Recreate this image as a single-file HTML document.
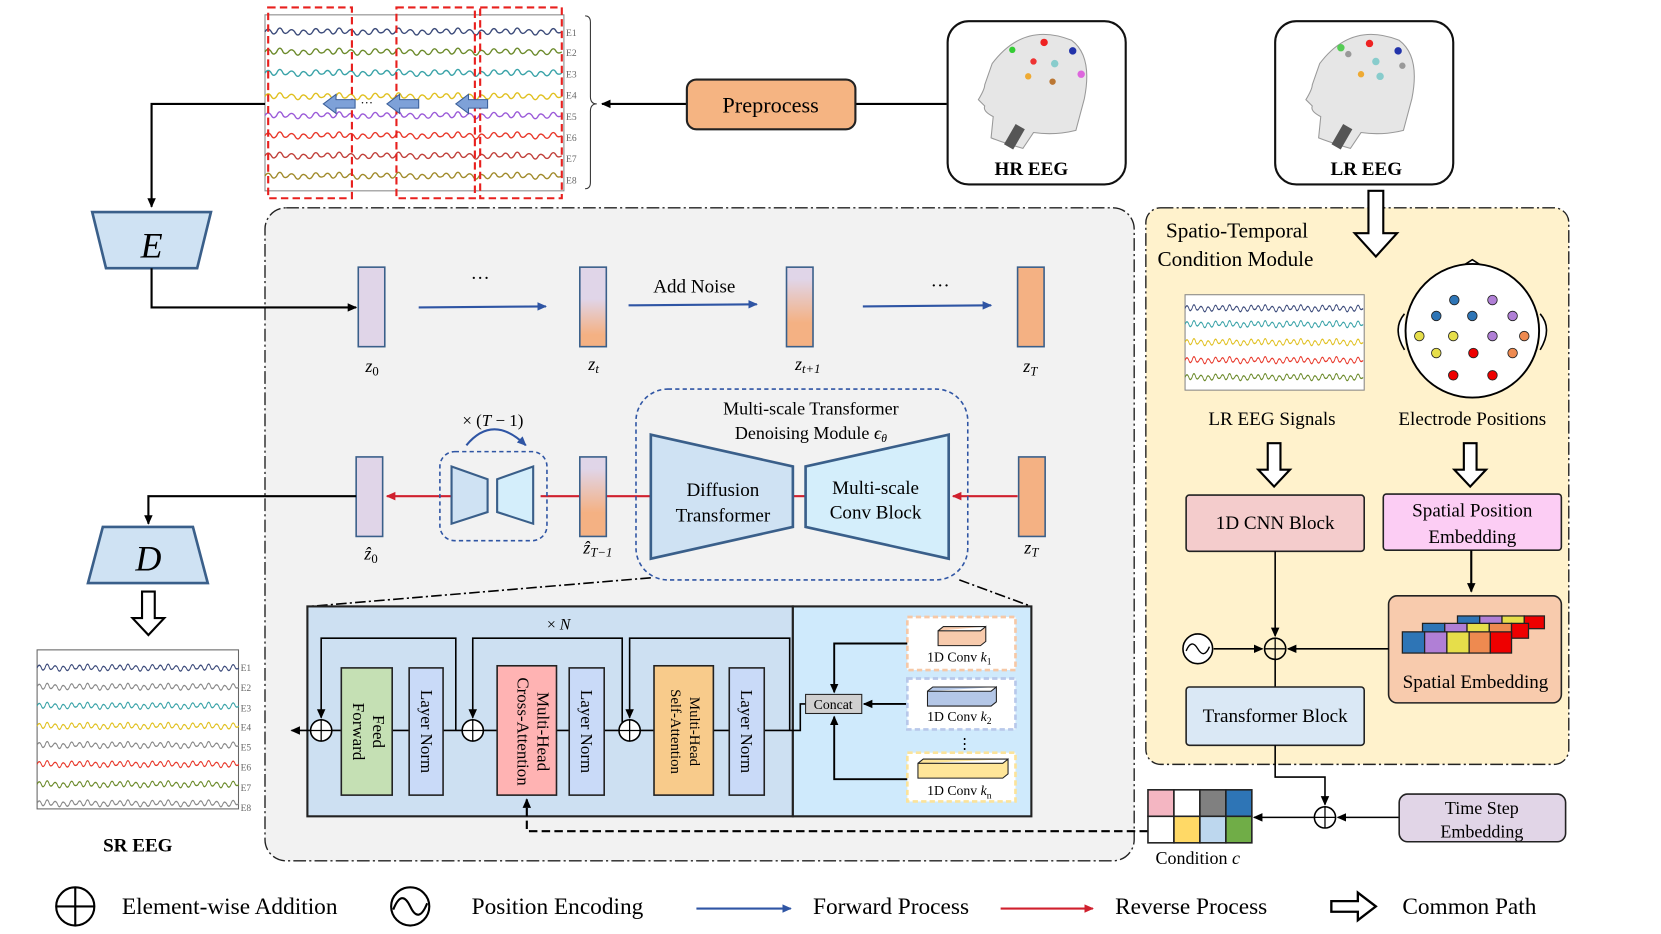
<!DOCTYPE html>
<html><head><meta charset="utf-8"><style>
html,body{margin:0;padding:0;background:#fff;}
svg{display:block;}
text{font-family:"Liberation Serif",serif;}
</style></head><body>
<svg width="1661" height="934" viewBox="0 0 1567 881" preserveAspectRatio="none" xmlns="http://www.w3.org/2000/svg">
<defs>
<path id="wv" fill="none" stroke-width="1.3" d="M0 0 q3 -5 6 0 q2 4 5 0 q3 -7 6 0 q2 3 5 0 q3 -4 6 0 q3 6 6 0 q2 -3 5 0 q3 5 6 0 q3 -6 6 0 q2 2 5 0 q3 -5 6 0 q2 4 5 0 q3 -7 6 0 q2 3 5 0 q3 -4 6 0 q3 6 6 0 q2 -3 5 0 q3 5 6 0 q3 -6 6 0 q2 2 5 0 q3 -5 6 0 q2 4 5 0 q3 -7 6 0 q2 3 5 0 q3 -4 6 0 q3 6 6 0 q2 -3 5 0 q3 5 6 0 q3 -6 6 0 q2 2 5 0 q3 -5 6 0 q2 4 5 0 q3 -7 6 0 q2 3 5 0 q3 -4 6 0 q3 6 6 0 q2 -3 5 0 q3 5 6 0 q3 -6 6 0 q2 2 5 0 q3 -5 6 0 q2 4 5 0 q3 -7 6 0 q2 3 5 0 q3 -4 6 0 q3 6 6 0 q2 -3 5 0 q3 5 6 0 q3 -6 6 0 q2 2 5 0"/>
<marker id="ak" markerWidth="10" markerHeight="10" refX="8" refY="5" orient="auto" markerUnits="userSpaceOnUse"><path d="M0 1 L9 5 L0 9 z" fill="#000"/></marker>
<marker id="ab" markerWidth="10" markerHeight="10" refX="8" refY="5" orient="auto" markerUnits="userSpaceOnUse"><path d="M0 1 L9 5 L0 9 z" fill="#2f55a4"/></marker>
<marker id="ar" markerWidth="10" markerHeight="10" refX="8" refY="5" orient="auto" markerUnits="userSpaceOnUse"><path d="M0 1 L9 5 L0 9 z" fill="#d0202e"/></marker>
<linearGradient id="g1" x1="0" y1="0" x2="0" y2="1"><stop offset="0.4" stop-color="#e0d5e8"/><stop offset="0.85" stop-color="#f4b183"/></linearGradient>
<linearGradient id="g2" x1="0" y1="0" x2="0" y2="1"><stop offset="0.15" stop-color="#e0d5e8"/><stop offset="0.7" stop-color="#f4b183"/></linearGradient>
</defs>

<!-- top signal box -->
<rect x="250" y="14" width="282" height="166" fill="#fff" stroke="#888"/>
<g transform="translate(250,0)">
<use href="#wv" y="30" stroke="#3b4a7a"/><use href="#wv" y="49" stroke="#6b8a2a"/><use href="#wv" y="69" stroke="#3aa3a8"/><use href="#wv" y="91" stroke="#e0c020"/>
<use href="#wv" y="109" stroke="#9a5ad8"/><use href="#wv" y="128" stroke="#e8382a"/><use href="#wv" y="147" stroke="#c0403a"/><use href="#wv" y="166" stroke="#a08a2a"/>
</g>
<g fill="none" stroke="#e8201e" stroke-width="2" stroke-dasharray="7 4">
<rect x="253" y="7" width="79" height="180"/><rect x="374" y="7" width="74" height="180"/><rect x="453" y="7" width="77" height="180"/></g>
<g font-size="9" fill="#666" font-family="Liberation Sans,sans-serif"><text x="534" y="34">E1</text><text x="534" y="53">E2</text><text x="534" y="73">E3</text><text x="534" y="93">E4</text><text x="534" y="113">E5</text><text x="534" y="133">E6</text><text x="534" y="153">E7</text><text x="534" y="173">E8</text></g>
<path d="M552 15 q5 0 5 6 v70 q0 7 6 7 q-6 0 -6 7 v67 q0 6 -5 6" fill="none" stroke="#333"/>
<g fill="#7ea1d8" stroke="#3b5f9a"><path d="M305 98 l12 -9 v5 h18 v8 h-18 v5z"/><path d="M365 98 l12 -9 v5 h18 v8 h-18 v5z"/><path d="M430 98 l12 -9 v5 h18 v8 h-18 v5z"/></g>
<text x="340" y="101" font-size="12">···</text>

<!-- preprocess -->
<line x1="893" y1="98" x2="568" y2="98" stroke="#000" stroke-width="2" marker-end="url(#ak)"/>
<rect x="648" y="75" width="159" height="47" rx="9" fill="#f5b482" stroke="#222" stroke-width="2"/>
<text x="727" y="106" font-size="21" text-anchor="middle">Preprocess</text>

<!-- HR / LR EEG boxes -->
<g>
<rect x="894" y="20" width="168" height="154" rx="20" fill="#fff" stroke="#111" stroke-width="2"/>
<path d="M936 60 q30 -40 75 -22 q20 15 12 55 l-8 30 q-20 5 -40 2 l-10 15 q-20 -6 -30 -10 l2 -20 q-10 -5 -8 -10 l-6 -6 q6 -10 6 -14z" fill="#e6e6e6" stroke="#999"/>
<circle cx="955" cy="47" r="3" fill="#3c3"/><circle cx="985" cy="40" r="3.5" fill="#e22"/><circle cx="1012" cy="48" r="3.5" fill="#23a"/><circle cx="975" cy="58" r="3" fill="#e33"/><circle cx="995" cy="60" r="3.5" fill="#8cc"/><circle cx="970" cy="72" r="3" fill="#ea3"/><circle cx="993" cy="77" r="3" fill="#b73"/><circle cx="1020" cy="70" r="3.5" fill="#d6d"/>
<rect x="952" y="118" width="10" height="22" fill="#555" transform="rotate(30 957 129)"/>
<text x="973" y="165" font-size="18" font-weight="bold" text-anchor="middle">HR EEG</text>
</g>
<g>
<rect x="1203" y="20" width="168" height="154" rx="20" fill="#fff" stroke="#111" stroke-width="2"/>
<path d="M1245 60 q30 -40 75 -22 q20 15 12 55 l-8 30 q-20 5 -40 2 l-10 15 q-20 -6 -30 -10 l2 -20 q-10 -5 -8 -10 l-6 -6 q6 -10 6 -14z" fill="#e6e6e6" stroke="#999"/>
<circle cx="1265" cy="45" r="3.5" fill="#5c5"/><circle cx="1292" cy="41" r="3.5" fill="#e22"/><circle cx="1319" cy="48" r="3.5" fill="#23a"/><circle cx="1298" cy="58" r="3.5" fill="#8cc"/><circle cx="1272" cy="51" r="3" fill="#999"/><circle cx="1284" cy="70" r="3" fill="#ea3"/><circle cx="1302" cy="72" r="3.5" fill="#8cc"/><circle cx="1323" cy="62" r="3" fill="#999"/>
<rect x="1261" y="118" width="10" height="22" fill="#555" transform="rotate(30 1266 129)"/>
<text x="1289" y="165" font-size="18" font-weight="bold" text-anchor="middle">LR EEG</text>
</g>

<!-- E encoder -->
<polyline points="250,98 143,98 143,195" fill="none" stroke="#000" stroke-width="2" marker-end="url(#ak)"/>
<path d="M87 200 H199 L186 253 H100 Z" fill="#cfe2f3" stroke="#3a5f8a" stroke-width="2.5"/>
<text x="143" y="243" font-size="34" font-style="italic" text-anchor="middle">E</text>

<!-- gray area -->
<rect x="250" y="196" width="820" height="616" rx="20" fill="#f2f2f2" stroke="#222" stroke-width="1.3" stroke-dasharray="12 3 2 3"/>
<polyline points="143,253 143,290 336,290" fill="none" stroke="#000" stroke-width="2" marker-end="url(#ak)"/>

<!-- forward row -->
<rect x="338" y="252" width="25" height="75" fill="#e0d5e8" stroke="#3a5f8a" stroke-width="1.5"/>
<rect x="547" y="252" width="25" height="75" fill="url(#g1)" stroke="#3a5f8a" stroke-width="1.5"/>
<rect x="742" y="252" width="25" height="75" fill="url(#g2)" stroke="#3a5f8a" stroke-width="1.5"/>
<rect x="960" y="252" width="25" height="75" fill="#f4b183" stroke="#3a5f8a" stroke-width="1.5"/>
<g stroke="#2f55a4" stroke-width="2"><line x1="395" y1="290" x2="515" y2="289" marker-end="url(#ab)"/><line x1="593" y1="288" x2="714" y2="287" marker-end="url(#ab)"/><line x1="814" y1="289" x2="935" y2="288" marker-end="url(#ab)"/></g>
<text x="453" y="268" font-size="18" text-anchor="middle">···</text><text x="887" y="275" font-size="18" text-anchor="middle">···</text>
<text x="655" y="276" font-size="18" text-anchor="middle">Add Noise</text>
<g font-size="17" font-style="italic" text-anchor="middle"><text x="351" y="351">z<tspan font-size="12" dy="3" font-style="normal">0</tspan></text><text x="560" y="349">z<tspan font-size="12" dy="3">t</tspan></text><text x="762" y="349">z<tspan font-size="12" dy="3">t+1</tspan></text><text x="972" y="351">z<tspan font-size="12" dy="3">T</tspan></text></g>

<!-- reverse row -->
<g stroke="#d0202e" stroke-width="2"><line x1="960" y1="468" x2="899" y2="468" marker-end="url(#ar)"/><line x1="748" y1="468" x2="761" y2="468"/><line x1="614" y1="468" x2="572" y2="468"/><line x1="547" y1="468" x2="510" y2="468"/><line x1="425" y1="468" x2="365" y2="468" marker-end="url(#ar)"/></g>
<rect x="336" y="431" width="25" height="75" fill="#e0d5e8" stroke="#3a5f8a" stroke-width="1.5"/>
<rect x="547" y="431" width="25" height="75" fill="url(#g2)" stroke="#3a5f8a" stroke-width="1.5"/>
<rect x="961" y="431" width="25" height="75" fill="#f4b183" stroke="#3a5f8a" stroke-width="1.5"/>
<rect x="415" y="426" width="101" height="84" rx="14" fill="none" stroke="#2f55a4" stroke-width="1.5" stroke-dasharray="4 3"/>
<path d="M426 440 L460 452 V483 L426 494 Z" fill="#cfe2f3" stroke="#3a5f8a" stroke-width="2"/>
<path d="M503 440 L469 452 V483 L503 494 Z" fill="#d4eefb" stroke="#3a5f8a" stroke-width="2"/>
<path d="M440 420 q25 -30 56 0" fill="none" stroke="#2f55a4" stroke-width="2" marker-end="url(#ab)"/>
<text x="465" y="402" font-size="16" text-anchor="middle">× (<tspan font-style="italic">T</tspan> − 1)</text>
<rect x="600" y="367" width="313" height="180" rx="30" fill="none" stroke="#2f55a4" stroke-width="1.5" stroke-dasharray="4 3"/>
<text x="765" y="391" font-size="17" text-anchor="middle">Multi-scale Transformer</text>
<text x="765" y="414" font-size="17" text-anchor="middle">Denoising Module <tspan font-style="italic">ϵ</tspan><tspan font-size="11" dy="3" font-style="italic">θ</tspan></text>
<path d="M614 410 L748 440 V497 L614 527 Z" fill="#cfe2f3" stroke="#3a5f8a" stroke-width="2.5"/>
<path d="M895 410 L760 440 V497 L895 527 Z" fill="#d4eefb" stroke="#3a5f8a" stroke-width="2.5"/>
<text x="682" y="468" font-size="18" text-anchor="middle">Diffusion</text><text x="682" y="492" font-size="18" text-anchor="middle">Transformer</text>
<text x="826" y="466" font-size="18" text-anchor="middle">Multi-scale</text><text x="826" y="489" font-size="18" text-anchor="middle">Conv Block</text>
<g font-size="17" font-style="italic" text-anchor="middle"><text x="350" y="528">ẑ<tspan font-size="12" dy="3" font-style="normal">0</tspan></text><text x="564" y="522">ẑ<tspan font-size="12" dy="3">T−1</tspan></text><text x="973" y="522">z<tspan font-size="12" dy="3">T</tspan></text></g>

<!-- D decoder -->
<polyline points="336,468 140,468 140,494" fill="none" stroke="#000" stroke-width="2" marker-end="url(#ak)"/>
<path d="M97 497 H182 L196 550 H83 Z" fill="#cfe2f3" stroke="#3a5f8a" stroke-width="2.5"/>
<text x="140" y="538" font-size="34" font-style="italic" text-anchor="middle">D</text>
<path d="M134 558 h12 v25 h9 l-15 16 l-15 -16 h9z" fill="#fff" stroke="#000" stroke-width="2"/>
<rect x="35" y="613" width="190" height="150" fill="#fff" stroke="#666"/>
<g transform="translate(35,0) scale(0.68,1)">
<use href="#wv" y="630" stroke="#3b4a7a"/><use href="#wv" y="648" stroke="#888"/><use href="#wv" y="666" stroke="#3aa3a8"/><use href="#wv" y="685" stroke="#e0c020"/><use href="#wv" y="703" stroke="#888"/><use href="#wv" y="721" stroke="#e8382a"/><use href="#wv" y="740" stroke="#6b8a2a"/><use href="#wv" y="758" stroke="#888"/></g>
<g font-size="9" fill="#666" font-family="Liberation Sans,sans-serif"><text x="227" y="633">E1</text><text x="227" y="652">E2</text><text x="227" y="671">E3</text><text x="227" y="689">E4</text><text x="227" y="708">E5</text><text x="227" y="727">E6</text><text x="227" y="746">E7</text><text x="227" y="765">E8</text></g>
<text x="130" y="803" font-size="18" font-weight="bold" text-anchor="middle">SR EEG</text>

<!-- detail -->
<g stroke="#000" stroke-width="1.5" stroke-dasharray="10 3 2 3"><line x1="614" y1="545" x2="292" y2="572"/><line x1="905" y1="547" x2="973" y2="572"/></g>
<rect x="290" y="572" width="458" height="198" fill="#cde0f2" stroke="#222" stroke-width="2"/>
<rect x="748" y="572" width="225" height="198" fill="#cfeafc" stroke="#222" stroke-width="2"/>
<text x="527" y="594" font-size="15" text-anchor="middle">× <tspan font-style="italic">N</tspan></text>
<g fill="none" stroke="#000" stroke-width="1.5">
<line x1="748" y1="689" x2="275" y2="689" marker-end="url(#ak)"/>
<polyline points="430,689 430,602 303,602 303,677" marker-end="url(#ak)"/>
<polyline points="587,689 587,602 446,602 446,677" marker-end="url(#ak)"/>
<polyline points="745,689 745,602 594,602 594,677" marker-end="url(#ak)"/>
<polyline points="748,689 755,689 755,664 760,664"/>
</g>
<g fill="#fff" stroke="#000" stroke-width="1.5"><circle cx="303" cy="689" r="10"/><circle cx="446" cy="689" r="10"/><circle cx="594" cy="689" r="10"/></g>
<g stroke="#000" stroke-width="1.2"><path d="M293 689h20M303 679v20M436 689h20M446 679v20M584 689h20M594 679v20"/></g>
<rect x="322" y="630" width="48" height="120" fill="#c5e0b4" stroke="#222" stroke-width="1.5"/>
<rect x="386" y="630" width="32" height="120" fill="#c9daf8" stroke="#222" stroke-width="1.5"/>
<rect x="469" y="628" width="56" height="122" fill="#ffb3b3" stroke="#222" stroke-width="1.5"/>
<rect x="537" y="630" width="33" height="120" fill="#c9daf8" stroke="#222" stroke-width="1.5"/>
<rect x="617" y="628" width="56" height="122" fill="#f8cb8b" stroke="#222" stroke-width="1.5"/>
<rect x="688" y="630" width="33" height="120" fill="#c9daf8" stroke="#222" stroke-width="1.5"/>
<g font-size="16" text-anchor="middle">
<text transform="translate(352,690) rotate(90)">Feed</text><text transform="translate(333,690) rotate(90)">Forward</text>
<text transform="translate(397,690) rotate(90)">Layer Norm</text>
<text transform="translate(507,690) rotate(90)">Multi-Head</text><text transform="translate(488,690) rotate(90)">Cross-Attention</text>
<text transform="translate(548,690) rotate(90)">Layer Norm</text>
<text transform="translate(651,690) rotate(90)" font-size="14">Multi-Head</text><text transform="translate(633,690) rotate(90)" font-size="14">Self-Attention</text>
<text transform="translate(699,690) rotate(90)">Layer Norm</text>
</g>
<!-- convs -->
<g fill="none" stroke="#000" stroke-width="1.8">
<polyline points="856,607 787,607 787,653" marker-end="url(#ak)"/>
<line x1="856" y1="664" x2="815" y2="664" marker-end="url(#ak)"/>
<polyline points="856,735 787,735 787,676" marker-end="url(#ak)"/>
</g>
<rect x="760" y="655" width="53" height="18" fill="#d0d0d0" stroke="#222"/>
<text x="786" y="669" font-size="13" text-anchor="middle">Concat</text>
<rect x="856" y="582" width="102" height="50" fill="#fff" stroke="#f6c8a6" stroke-width="2.5" stroke-dasharray="5 3"/>
<rect x="856" y="640" width="102" height="48" fill="#fff" stroke="#b8c8ea" stroke-width="2.5" stroke-dasharray="5 3"/>
<rect x="856" y="710" width="102" height="46" fill="#fff" stroke="#fbe39a" stroke-width="2.5" stroke-dasharray="5 3"/>
<path d="M885 595 h40 l5 -4 v14 l-5 4 h-40z M885 595 l5 -4 h40" fill="#f8cbad" stroke="#222"/>
<path d="M875 652 h60 l5 -4 v14 l-5 4 h-60z M875 652 l5 -4 h60" fill="#b4c7e7" stroke="#222"/>
<path d="M866 720 h80 l5 -4 v14 l-5 4 h-80z M866 720 l5 -4 h80" fill="#ffe699" stroke="#222"/>
<g font-size="13" text-anchor="middle"><text x="905" y="624">1D Conv <tspan font-style="italic">k</tspan><tspan font-size="9" dy="3">1</tspan></text><text x="905" y="680">1D Conv <tspan font-style="italic">k</tspan><tspan font-size="9" dy="3">2</tspan></text><text x="905" y="750">1D Conv <tspan font-style="italic">k</tspan><tspan font-size="9" dy="3">n</tspan></text></g>
<text x="910" y="706" font-size="14" text-anchor="middle">⋮</text>
<polyline points="1083,784 497,784 497,754" fill="none" stroke="#000" stroke-width="2" stroke-dasharray="8 4" marker-end="url(#ak)"/>

<!-- right panel -->
<rect x="1081" y="196" width="399" height="525" rx="14" fill="#fff2cc" stroke="#222" stroke-width="1.3" stroke-dasharray="12 3 2 3"/>
<path d="M1291 180 h14 v40 h13 l-20 22 l-20 -22 h13z" fill="#fff" stroke="#000" stroke-width="2"/>
<text x="1100" y="224" font-size="20">Spatio-Temporal</text>
<text x="1092" y="251" font-size="20">Condition Module</text>
<rect x="1118" y="278" width="169" height="90" fill="#fff" stroke="#888"/>
<g transform="translate(1118,0) scale(0.6,1)"><use href="#wv" y="291" stroke="#3b4a7a"/><use href="#wv" y="306" stroke="#3aa3a8"/><use href="#wv" y="323" stroke="#e0c020"/><use href="#wv" y="340" stroke="#e8382a"/><use href="#wv" y="356" stroke="#6b8a2a"/></g>
<text x="1200" y="401" font-size="18" text-anchor="middle">LR EEG Signals</text>
<path d="M1325 296 q-12 14 0 34 M1453 296 q12 14 0 34 M1378 252 l11 -7 l11 7" fill="#fff" stroke="#000" stroke-width="1.5"/>
<circle cx="1389" cy="312" r="63" fill="#fff" stroke="#000" stroke-width="1.8"/>
<g stroke="#222" stroke-width="0.8">
<circle cx="1372" cy="283" r="4.5" fill="#2e75b6"/><circle cx="1408" cy="283" r="4.5" fill="#b07fd6"/>
<circle cx="1355" cy="298" r="4.5" fill="#2e75b6"/><circle cx="1389" cy="298" r="4.5" fill="#2e75b6"/><circle cx="1427" cy="298" r="4.5" fill="#b07fd6"/>
<circle cx="1339" cy="317" r="4.5" fill="#e6de4a"/><circle cx="1371" cy="317" r="4.5" fill="#e6de4a"/><circle cx="1408" cy="317" r="4.5" fill="#b07fd6"/><circle cx="1438" cy="317" r="4.5" fill="#ee8a50"/>
<circle cx="1355" cy="333" r="4.5" fill="#e6de4a"/><circle cx="1390" cy="333" r="4.5" fill="#e00"/><circle cx="1427" cy="333" r="4.5" fill="#ee8a50"/>
<circle cx="1371" cy="354" r="4.5" fill="#e00"/><circle cx="1408" cy="354" r="4.5" fill="#e00"/></g>
<text x="1389" y="401" font-size="18" text-anchor="middle">Electrode Positions</text>
<path d="M1196 418 h12 v25 h9 l-15 16 l-15 -16 h9z" fill="#fff" stroke="#000" stroke-width="2"/>
<path d="M1381 418 h12 v25 h9 l-15 16 l-15 -16 h9z" fill="#fff" stroke="#000" stroke-width="2"/>
<rect x="1119" y="467" width="168" height="53" rx="3" fill="#f4cccc" stroke="#222" stroke-width="1.5"/>
<text x="1203" y="499" font-size="18" text-anchor="middle">1D CNN Block</text>
<rect x="1305" y="466" width="168" height="53" rx="3" fill="#fccdf4" stroke="#222" stroke-width="1.5"/>
<text x="1389" y="487" font-size="18" text-anchor="middle">Spatial Position</text><text x="1389" y="512" font-size="18" text-anchor="middle">Embedding</text>
<line x1="1388" y1="519" x2="1388" y2="558" stroke="#000" stroke-width="2" marker-end="url(#ak)"/>
<rect x="1310" y="562" width="163" height="101" rx="8" fill="#f8cbad" stroke="#222" stroke-width="1.5"/>
<g stroke="#222" stroke-width="1.2">
<rect x="1375" y="581" width="21" height="11" fill="#2e75b6"/><rect x="1396" y="581" width="21" height="11" fill="#b07fd6"/><rect x="1417" y="581" width="21" height="11" fill="#e6de4a"/><rect x="1438" y="581" width="19" height="12" fill="#e00"/>
<rect x="1342" y="588" width="21" height="10" fill="#2e75b6"/><rect x="1363" y="588" width="21" height="10" fill="#b07fd6"/><rect x="1384" y="588" width="21" height="10" fill="#e6de4a"/><rect x="1405" y="588" width="21" height="10" fill="#ee8a50"/><rect x="1426" y="588" width="16" height="14" fill="#e00"/>
<rect x="1323" y="596" width="21" height="20" fill="#2e75b6"/><rect x="1344" y="596" width="21" height="20" fill="#b07fd6"/><rect x="1365" y="596" width="21" height="20" fill="#e6de4a"/><rect x="1386" y="596" width="20" height="20" fill="#ee8a50"/><rect x="1406" y="596" width="20" height="20" fill="#e00"/></g>
<text x="1392" y="649" font-size="18" text-anchor="middle">Spatial Embedding</text>
<line x1="1203" y1="520" x2="1203" y2="600" stroke="#000" stroke-width="1.5" marker-end="url(#ak)"/>
<line x1="1310" y1="612" x2="1215" y2="612" stroke="#000" stroke-width="1.5" marker-end="url(#ak)"/>
<line x1="1145" y1="612" x2="1191" y2="612" stroke="#000" stroke-width="1.5" marker-end="url(#ak)"/>
<line x1="1203" y1="622" x2="1203" y2="648" stroke="#000" stroke-width="1.5"/>
<circle cx="1203" cy="612" r="10" fill="none" stroke="#000" stroke-width="1.5"/><path d="M1193 612h20M1203 602v20" stroke="#000" stroke-width="1.2"/>
<circle cx="1130" cy="612" r="14" fill="#fff" stroke="#000" stroke-width="1.5"/><path d="M1119 614 q5 -12 11 -2 t11 -2" fill="none" stroke="#000" stroke-width="1.3"/>
<rect x="1119" y="648" width="168" height="55" rx="3" fill="#dae8f5" stroke="#222" stroke-width="1.5"/>
<text x="1203" y="681" font-size="18" text-anchor="middle">Transformer Block</text>

<!-- condition -->
<polyline points="1203,703 1203,733 1250,733 1250,759" fill="none" stroke="#000" stroke-width="1.5" marker-end="url(#ak)"/>
<circle cx="1250" cy="771" r="10" fill="none" stroke="#000" stroke-width="1.5"/><path d="M1240 771h20M1250 761v20" stroke="#000" stroke-width="1.2"/>
<line x1="1320" y1="771" x2="1262" y2="771" stroke="#000" stroke-width="1.5" marker-end="url(#ak)"/>
<line x1="1240" y1="771" x2="1183" y2="771" stroke="#000" stroke-width="1.5" marker-end="url(#ak)"/>
<rect x="1320" y="749" width="157" height="45" rx="8" fill="#e1d5e7" stroke="#222" stroke-width="1.5"/>
<text x="1398" y="768" font-size="17" text-anchor="middle">Time Step</text><text x="1398" y="790" font-size="17" text-anchor="middle">Embedding</text>
<g stroke="#222" stroke-width="1.5">
<rect x="1083" y="745" width="24.5" height="25" fill="#f4b6c2"/><rect x="1107.5" y="745" width="24.5" height="25" fill="#fff"/><rect x="1132" y="745" width="24.5" height="25" fill="#808080"/><rect x="1156.5" y="745" width="24.5" height="25" fill="#2e75b6"/>
<rect x="1083" y="770" width="24.5" height="25" fill="#fff"/><rect x="1107.5" y="770" width="24.5" height="25" fill="#ffd966"/><rect x="1132" y="770" width="24.5" height="25" fill="#bdd7ee"/><rect x="1156.5" y="770" width="24.5" height="25" fill="#70ad47"/></g>
<text x="1130" y="815" font-size="17" text-anchor="middle">Condition <tspan font-style="italic">c</tspan></text>

<!-- legend -->
<circle cx="71" cy="855" r="18" fill="none" stroke="#000" stroke-width="2"/><path d="M53 855h36M71 837v36" stroke="#000" stroke-width="2"/>
<text x="115" y="862" font-size="22">Element-wise Addition</text>
<circle cx="387" cy="855" r="18" fill="none" stroke="#000" stroke-width="2"/><path d="M371 858 q8 -20 16 -3 t16 -3" fill="none" stroke="#000" stroke-width="2"/>
<text x="445" y="862" font-size="22">Position Encoding</text>
<line x1="657" y1="857" x2="746" y2="857" stroke="#2f55a4" stroke-width="2" marker-end="url(#ab)"/>
<text x="767" y="862" font-size="22">Forward Process</text>
<line x1="944" y1="857" x2="1031" y2="857" stroke="#d0202e" stroke-width="2" marker-end="url(#ar)"/>
<text x="1052" y="862" font-size="22">Reverse Process</text>
<path d="M1256 850 h25 v-8 l17 13 l-17 13 v-8 h-25z" fill="#fff" stroke="#000" stroke-width="2.2"/>
<text x="1323" y="862" font-size="22">Common Path</text>
</svg>
</body></html>
